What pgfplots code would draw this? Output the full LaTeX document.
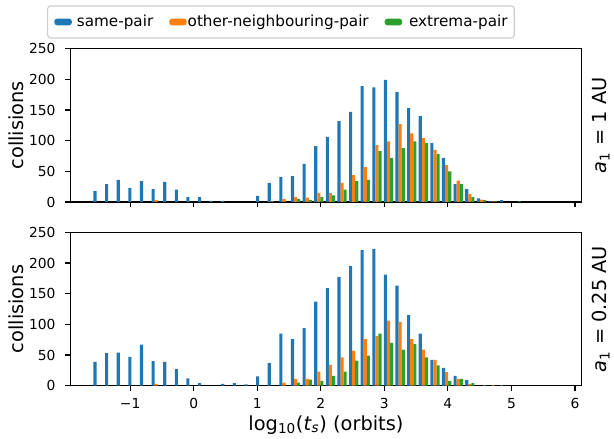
\documentclass[border=0pt]{standalone}
\usepackage{fontspec}
\setmainfont{DejaVu Sans}
\usepackage{pgfplots}
\pgfplotsset{compat=1.18}
\usepackage{pgfplotstable}

\definecolor{mplblue}{HTML}{1F77B4}
\definecolor{mplorange}{HTML}{FF7F0E}
\definecolor{mplgreen}{HTML}{2CA02C}

% collision counts per log10(t_s) bin (bin width 0.1828, first bin at -1.596)
\pgfplotstableread{
bin same other extrema
0  18 0 0
1  29 0 0
2  36 0 0
3  23 0 0
4  34 0 0
5  21 3 0
6  33 0 0
7  20 0 0
8  8 0 0
9  8 0 0
10 2 0 0
11 2 0 0
12 0 0 0
13 0 0 0
14 10 0 0
15 31 1 0
16 41 5 0
17 42 8 5
18 62 7 3
19 91 15 8
20 106 15 11
21 132 31 20
22 147 44 34
23 189 57 36
24 187 93 83
25 199 99 72
26 179 127 88
27 153 112 99
28 140 104 96
29 96 85 78
30 72 60 50
31 29 35 29
32 21 13 8
33 6 4 3
34 1 1 1
35 3 0 0
36 0 0 1
}\tabA

\pgfplotstableread{
bin same other extrema
0  39 0 0
1  53 0 0
2  54 0 0
3  47 0 0
4  67 0 0
5  40 3 0
6  39 0 0
7  27 0 0
8  12 0 0
9  4 0 0
10 0 0 0
11 3 0 0
12 4 0 0
13 2 0 0
14 15 0 0
15 37 0 0
16 85 5 0
17 76 11 5
18 94 11 10
19 137 23 8
20 159 34 16
21 177 46 23
22 195 57 41
23 221 76 49
24 223 81 85
25 181 106 70
26 163 104 59
27 115 76 68
28 85 59 46
29 42 42 33
30 29 22 8
31 16 11 11
32 9 3 4
33 0 0 1
34 0 1 0
35 1 0 0
}\tabB

\pgfplotsset{
  panel/.style={
    scale only axis, width=368.2bp, height=110.4bp,
    xmin=-1.942, xmax=6.105, ymin=0, ymax=250,
    xtick={-1,0,1,2,3,4,5,6}, ytick={0,50,100,150,200,250},
    tick align=outside, tick pos=left,
    major tick length=3.5bp,
    every tick/.style={black, line width=0.8bp},
    axis line style={black, line width=0.8bp},
    tick label style={font=\fontsize{10}{12}\selectfont, inner sep=0pt},
    /pgf/number format/assume math mode=true,
    yticklabel style={anchor=east, xshift=-7bp},
    xticklabel style={anchor=base, yshift=-12.9bp},
    ylabel={collisions},
    ylabel style={at={(axis description cs:-0.0918,0.5)}, anchor=base,
      font=\fontsize{14}{16}\selectfont},
    clip=false,
  },
  % empty bins are skipped rather than drawn with zero height
  hbar/.style={ybar, bar width=0.04875, bar shift=0pt, draw=none, fill=#1,
    restrict y to domain=0.5:1000,
    legend image code/.code={\fill[#1] (0bp,-2.4bp) rectangle (12.6bp,2.4bp);}},
}

\begin{document}
\begin{tikzpicture}
\useasboundingbox (0,0) rectangle (442.08bp,316.08bp);

\begin{axis}[panel, at={(50.6bp,170.64bp)}, anchor=south west,
  xticklabels={},
  legend columns=3,
  legend cell align=left,
  legend style={at={(axis description cs:0.412,1.174)}, anchor=center,
    draw=black!20, rounded corners=2bp, line width=0.8bp,
    font=\fontsize{11}{13}\selectfont,
    inner xsep=4.8bp, inner ysep=6bp,
    nodes={inner sep=0pt, text height=8.4bp, text depth=2.6bp},
    /tikz/column 1/.style={column sep=3.6bp},
    /tikz/column 2/.style={column sep=11.5bp},
    /tikz/column 3/.style={column sep=0.7bp},
    /tikz/column 4/.style={column sep=11.5bp},
    /tikz/column 5/.style={column sep=5bp}},
]
\addplot[hbar=mplblue] table[x expr={-1.553+0.1828*\thisrow{bin}}, y=same] {\tabA};
\addplot[hbar=mplorange] table[x expr={-1.553+0.04875+0.1828*\thisrow{bin}}, y=other] {\tabA};
\addplot[hbar=mplgreen] table[x expr={-1.553+0.0975+0.1828*\thisrow{bin}}, y=extrema] {\tabA};
\legend{same-pair, other-neighbouring-pair, extrema-pair}
\node[rotate=90, anchor=center, font=\fontsize{14}{16}\selectfont]
  at (axis description cs:1.0378,0.5) {\textit{a}\textsubscript{1} = 1 AU};
\end{axis}

\begin{axis}[panel, at={(50.6bp,38.38bp)}, anchor=south west,
  xticklabels={−1,0,1,2,3,4,5,6},
  xlabel={log\textsubscript{10}(\textit{t}\textsubscript{\textit{s}}) (orbits)},
  xlabel style={at={(axis description cs:0.5,-0.289)}, anchor=base,
    font=\fontsize{14}{16}\selectfont},
]
\addplot[hbar=mplblue] table[x expr={-1.553+0.1828*\thisrow{bin}}, y=same] {\tabB};
\addplot[hbar=mplorange] table[x expr={-1.553+0.04875+0.1828*\thisrow{bin}}, y=other] {\tabB};
\addplot[hbar=mplgreen] table[x expr={-1.553+0.0975+0.1828*\thisrow{bin}}, y=extrema] {\tabB};
\node[rotate=90, anchor=center, font=\fontsize{14}{16}\selectfont]
  at (axis description cs:1.0378,0.5) {\textit{a}\textsubscript{1} = 0.25 AU};
\end{axis}
\end{tikzpicture}
\end{document}
